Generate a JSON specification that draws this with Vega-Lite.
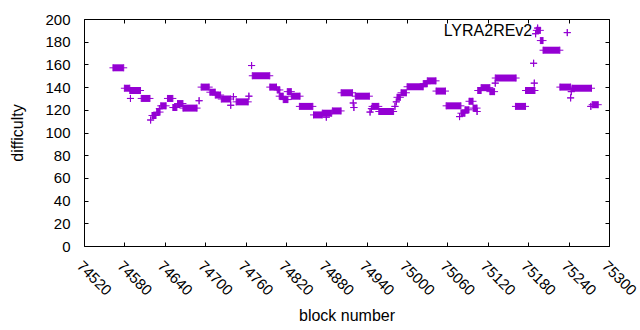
{
  "$schema": "https://vega.github.io/schema/vega-lite/v6.json",
  "width": 525,
  "height": 227,
  "autosize": {"type": "none"},
  "padding": {"left": 84, "top": 19, "right": 31, "bottom": 84},
  "background": "white",
  "config": {
    "view": {"stroke": "black", "strokeWidth": 1},
    "font": "Liberation Sans",
    "axis": {
      "domain": false,
      "grid": false,
      "tickColor": "black",
      "tickSize": -4,
      "tickWidth": 1,
      "labelColor": "black",
      "titleColor": "black",
      "labelFontSize": 15,
      "titleFontSize": 16,
      "titleFontWeight": "normal",
      "labelFont": "Liberation Sans",
      "titleFont": "Liberation Sans"
    }
  },
  "data": {
    "values": [
      {"s": 74563, "e": 74579, "d": 157},
      {"s": 74580, "e": 74588, "d": 139},
      {"s": 74588, "e": 74604, "d": 137},
      {"s": 74589, "e": 74589, "d": 130},
      {"s": 74605, "e": 74618, "d": 130},
      {"s": 74619, "e": 74619, "d": 111},
      {"s": 74621, "e": 74627, "d": 115},
      {"s": 74628, "e": 74633, "d": 118},
      {"s": 74632, "e": 74632, "d": 121},
      {"s": 74634, "e": 74642, "d": 123.5},
      {"s": 74644, "e": 74652, "d": 130},
      {"s": 74652, "e": 74658, "d": 122},
      {"s": 74659, "e": 74667, "d": 125.5},
      {"s": 74667, "e": 74688, "d": 121.5},
      {"s": 74691, "e": 74691, "d": 128},
      {"s": 74694, "e": 74706, "d": 140},
      {"s": 74707, "e": 74715, "d": 135.5},
      {"s": 74715, "e": 74723, "d": 133},
      {"s": 74724, "e": 74738, "d": 129.5},
      {"s": 74738, "e": 74738, "d": 124},
      {"s": 74742, "e": 74742, "d": 131.5},
      {"s": 74746, "e": 74764, "d": 127},
      {"s": 74765, "e": 74765, "d": 132},
      {"s": 74769, "e": 74769, "d": 159},
      {"s": 74770, "e": 74796, "d": 150},
      {"s": 74796, "e": 74806, "d": 140},
      {"s": 74807, "e": 74811, "d": 137.5},
      {"s": 74810, "e": 74816, "d": 132},
      {"s": 74816, "e": 74823, "d": 129},
      {"s": 74822, "e": 74828, "d": 136},
      {"s": 74828, "e": 74841, "d": 132},
      {"s": 74840, "e": 74860, "d": 123},
      {"s": 74861, "e": 74874, "d": 115.5},
      {"s": 74874, "e": 74888, "d": 117},
      {"s": 74880, "e": 74880, "d": 113.5},
      {"s": 74889, "e": 74902, "d": 119},
      {"s": 74902, "e": 74919, "d": 135},
      {"s": 74920, "e": 74920, "d": 126},
      {"s": 74921, "e": 74921, "d": 122},
      {"s": 74923, "e": 74944, "d": 132},
      {"s": 74945, "e": 74945, "d": 118},
      {"s": 74947, "e": 74947, "d": 121},
      {"s": 74948, "e": 74958, "d": 123},
      {"s": 74958, "e": 74980, "d": 118.5},
      {"s": 74982, "e": 74982, "d": 123},
      {"s": 74984, "e": 74984, "d": 127},
      {"s": 74985, "e": 74990, "d": 131},
      {"s": 74991, "e": 74999, "d": 135},
      {"s": 75000, "e": 75024, "d": 140.3},
      {"s": 75024, "e": 75030, "d": 143},
      {"s": 75030, "e": 75043, "d": 145.5},
      {"s": 75043, "e": 75057, "d": 136.5},
      {"s": 75058, "e": 75080, "d": 123.5},
      {"s": 75078, "e": 75078, "d": 114},
      {"s": 75080, "e": 75086, "d": 117},
      {"s": 75086, "e": 75092, "d": 120},
      {"s": 75092, "e": 75098, "d": 127.5},
      {"s": 75098, "e": 75104, "d": 121.5},
      {"s": 75104, "e": 75104, "d": 118.5},
      {"s": 75105, "e": 75110, "d": 137},
      {"s": 75110, "e": 75123, "d": 139.5},
      {"s": 75123, "e": 75130, "d": 136},
      {"s": 75131, "e": 75131, "d": 143.5},
      {"s": 75131, "e": 75162, "d": 148},
      {"s": 75161, "e": 75176, "d": 123},
      {"s": 75176, "e": 75190, "d": 137},
      {"s": 75188, "e": 75188, "d": 161},
      {"s": 75189, "e": 75189, "d": 143.5},
      {"s": 75191, "e": 75191, "d": 187},
      {"s": 75192, "e": 75198, "d": 190},
      {"s": 75194, "e": 75194, "d": 192},
      {"s": 75198, "e": 75202, "d": 181},
      {"s": 75202, "e": 75227, "d": 172.5},
      {"s": 75227, "e": 75243, "d": 140},
      {"s": 75238, "e": 75238, "d": 188},
      {"s": 75243, "e": 75243, "d": 130.5},
      {"s": 75244, "e": 75244, "d": 136},
      {"s": 75245, "e": 75274, "d": 139},
      {"s": 75273, "e": 75273, "d": 123},
      {"s": 75275, "e": 75284, "d": 124.5}
    ]
  },
  "layer": [
    {
      "mark": {"type": "rule", "strokeWidth": 7, "color": "#9400D3", "strokeCap": "butt"},
      "encoding": {
        "x": {
          "field": "s", "type": "quantitative",
          "scale": {"domain": [74520, 75300], "nice": false, "zero": false},
          "axis": {
            "orient": "bottom",
            "title": "block number",
            "values": [74520, 74580, 74640, 74700, 74760, 74820, 74880, 74940, 75000, 75060, 75120, 75180, 75240, 75300],
            "format": "d",
            "labelAngle": 45,
            "labelAlign": "left",
            "labelBaseline": "top",
            "labelPadding": 16,
            "labelDx": -2,
            "labelFlush": false,
            "labelOverlap": false,
            "titleBaseline": "middle",
            "titleY": 69
          }
        },
        "x2": {"field": "e"},
        "y": {
          "field": "d", "type": "quantitative",
          "scale": {"domain": [0, 200], "nice": false, "zero": true},
          "axis": {
            "orient": "left",
            "title": "difficulty",
            "values": [0, 20, 40, 60, 80, 100, 120, 140, 160, 180, 200],
            "labelAlign": "right",
            "labelBaseline": "middle",
            "labelPadding": 18,
            "labelFlush": false,
            "labelOverlap": false,
            "titleBaseline": "middle",
            "titleAngle": -90,
            "titleX": -67
          }
        }
      }
    },
    {
      "mark": {"type": "point", "shape": "M-1,0L1,0M0,-1L0,1", "size": 49, "strokeWidth": 1, "filled": false, "color": "#9400D3", "opacity": 1},
      "encoding": {
        "x": {
          "field": "s", "type": "quantitative",
          "axis": {"orient": "top", "title": null, "labels": false, "values": [74520, 74580, 74640, 74700, 74760, 74820, 74880, 74940, 75000, 75060, 75120, 75180, 75240, 75300]}
        },
        "y": {
          "field": "d", "type": "quantitative",
          "axis": {"orient": "right", "title": null, "labels": false, "values": [0, 20, 40, 60, 80, 100, 120, 140, 160, 180, 200]}
        }
      }
    },
    {
      "mark": {"type": "point", "shape": "M-1,0L1,0M0,-1L0,1", "size": 49, "strokeWidth": 1, "filled": false, "color": "#9400D3", "opacity": 1},
      "encoding": {
        "x": {"field": "e", "type": "quantitative", "axis": null},
        "y": {"field": "d", "type": "quantitative", "axis": null}
      }
    },
    {
      "data": {"values": [{"label": "LYRA2REv2", "x": 75186, "y": 189}]},
      "mark": {"type": "text", "align": "right", "baseline": "middle", "fontSize": 16, "font": "Liberation Sans", "color": "black"},
      "encoding": {
        "x": {"field": "x", "type": "quantitative", "axis": null},
        "y": {"field": "y", "type": "quantitative", "axis": null},
        "text": {"field": "label"}
      }
    }
  ],
  "resolve": {"axis": {"x": "independent", "y": "independent"}}
}
